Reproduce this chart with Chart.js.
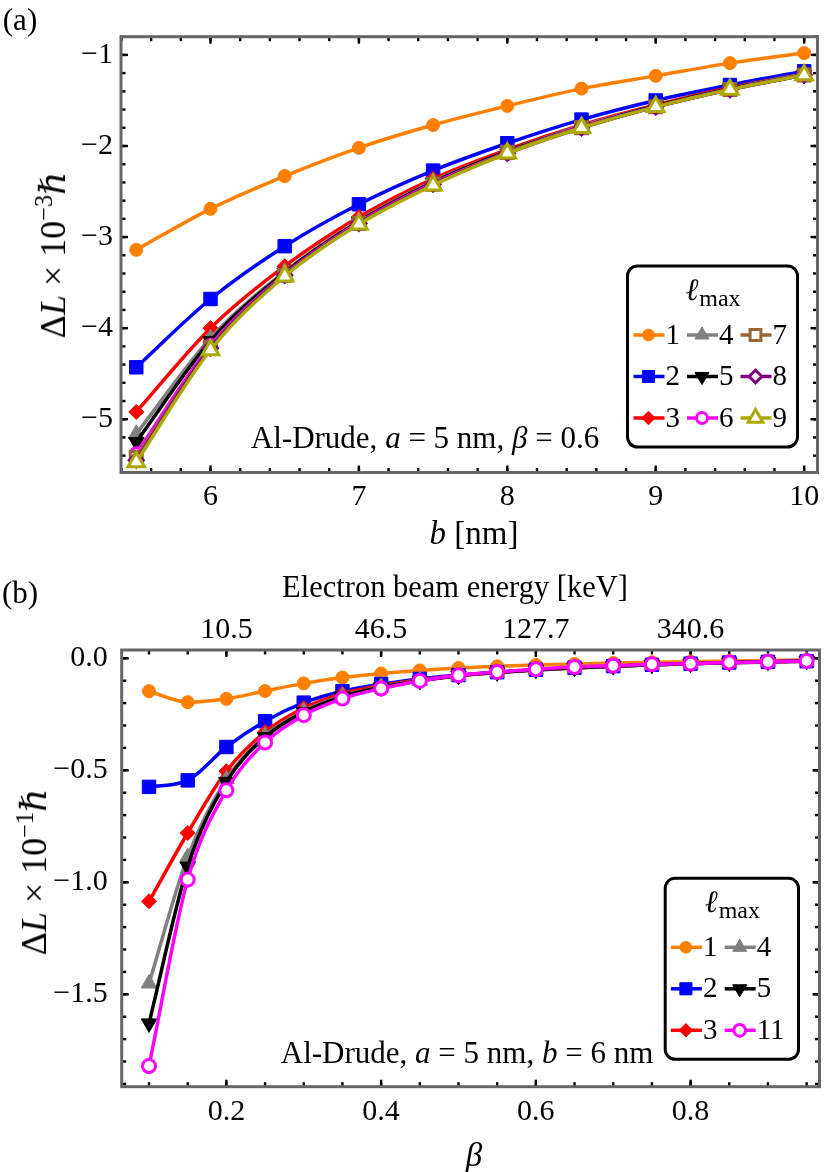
<!DOCTYPE html>
<html>
<head>
<meta charset="utf-8">
<script src="https://cdn.jsdelivr.net/npm/chart.js@4.4.1/dist/chart.umd.min.js"></script>
<style>
html, body { margin: 0; padding: 0; background: #fff; }
#wrap { position: relative; width: 830px; height: 1172px; overflow: hidden; font-family: 'Liberation Serif', 'DejaVu Serif', serif; color: #000; }
canvas { position: absolute; left: 0; }
.t { position: absolute; transform: translate(-50%, -50%); white-space: nowrap; line-height: 1; }
.rot { transform: translate(-50%, -50%) rotate(-90deg); }
sup { font-size: 0.68em; vertical-align: 0.55em; line-height: 0; }
</style>
</head>
<body>
<div id="wrap">
  <canvas id="chartA" width="830" height="575" style="top:0px"></canvas>
  <canvas id="chartB" width="830" height="597" style="top:575px"></canvas>

  <div class="t" style="left:20px; top:19px; font-size:31px;">(a)</div>
  <div class="t rot" style="left:53px; top:255px; font-size:36px;">Δ<i>L</i> × 10<sup>−3</sup><i>ℏ</i></div>
  <div class="t" style="left:474px; top:533px; font-size:33px;"><i>b</i> [nm]</div>
  <div class="t" style="left:425px; top:437px; font-size:31px;">Al-Drude, <i>a</i> = 5 nm, <i>β</i> = 0.6</div>

  <div class="t" style="left:20px; top:592px; font-size:31px;">(b)</div>
  <div class="t" style="left:455px; top:587px; font-size:30.5px;">Electron beam energy [keV]</div>
  <div class="t rot" style="left:34px; top:872px; font-size:36px;">Δ<i>L</i> × 10<sup>−1</sup><i>ℏ</i></div>
  <div class="t" style="left:474px; top:1155px; font-size:33px;"><i>β</i></div>
  <div class="t" style="left:467px; top:1052px; font-size:31px;">Al-Drude, <i>a</i> = 5 nm, <i>b</i> = 6 nm</div>
</div>

<script>
// ---- panel (a): dL vs impact parameter b, beta = 0.6 ----
const bValues = [5.5, 6, 6.5, 7, 7.5, 8, 8.5, 9, 9.5, 10];
const dLa_l1 = [-3.14, -2.69, -2.33, -2.02, -1.77, -1.56, -1.37, -1.23, -1.09, -0.98];
const dLa_l2 = [-4.43, -3.68, -3.10, -2.64, -2.27, -1.97, -1.71, -1.50, -1.33, -1.18];
const dLa_l3 = [-4.92, -4.00, -3.32, -2.78, -2.36, -2.04, -1.77, -1.55, -1.36, -1.21];
const dLa_l4 = [-5.16, -4.11, -3.38, -2.82, -2.39, -2.06, -1.78, -1.56, -1.37, -1.21];
const dLa_l5 = [-5.25, -4.14, -3.39, -2.83, -2.40, -2.06, -1.79, -1.56, -1.37, -1.22];
const dLa_l6 = [-5.38, -4.19, -3.41, -2.84, -2.41, -2.07, -1.79, -1.57, -1.38, -1.22];
const dLa_l7 = [-5.42, -4.21, -3.42, -2.85, -2.42, -2.07, -1.80, -1.57, -1.38, -1.22];
const dLa_l8 = [-5.45, -4.22, -3.42, -2.85, -2.42, -2.08, -1.80, -1.57, -1.38, -1.22];
const dLa_l9 = [-5.47, -4.24, -3.43, -2.86, -2.43, -2.08, -1.80, -1.57, -1.38, -1.22];
const lmaxA = ['1', '2', '3', '4', '5', '6', '7', '8', '9'];
const xTicksA = [6, 7, 8, 9, 10];
const yTicksA = [-5, -4, -3, -2, -1];

// ---- panel (b): dL vs beta, b = 6 nm ----
const betaValues = [0.1, 0.15, 0.2, 0.25, 0.3, 0.35, 0.4, 0.45, 0.5, 0.55, 0.6, 0.65, 0.7, 0.75, 0.8, 0.85, 0.9, 0.95];
const dLb_l1 = [-0.147, -0.196, -0.181, -0.146, -0.112, -0.086, -0.068, -0.054, -0.043, -0.036, -0.030, -0.025, -0.021, -0.018, -0.015, -0.012, -0.010, -0.008];
const dLb_l2 = [-0.574, -0.545, -0.396, -0.281, -0.198, -0.147, -0.115, -0.092, -0.075, -0.062, -0.051, -0.042, -0.035, -0.029, -0.024, -0.019, -0.016, -0.013];
const dLb_l3 = [-1.085, -0.780, -0.504, -0.329, -0.222, -0.158, -0.122, -0.097, -0.078, -0.063, -0.052, -0.043, -0.035, -0.029, -0.024, -0.020, -0.016, -0.013];
const dLb_l4 = [-1.452, -0.887, -0.540, -0.345, -0.236, -0.168, -0.128, -0.100, -0.078, -0.064, -0.052, -0.043, -0.036, -0.030, -0.025, -0.020, -0.017, -0.013];
const dLb_l5 = [-1.630, -0.930, -0.552, -0.352, -0.240, -0.171, -0.130, -0.101, -0.078, -0.063, -0.051, -0.042, -0.035, -0.029, -0.024, -0.019, -0.016, -0.012];
const dLb_l11 = [-1.820, -0.988, -0.589, -0.376, -0.254, -0.180, -0.135, -0.101, -0.076, -0.061, -0.049, -0.039, -0.033, -0.027, -0.024, -0.019, -0.016, -0.012];
const lmaxB = ['1', '2', '3', '4', '5', '11'];
const xTicksB = [0.2, 0.4, 0.6, 0.8];
const yTicksB = [0, -0.5, -1, -1.5];
const energyTickBetas = [0.2, 0.4, 0.6, 0.8];
const energyTickLabels = ['10.5', '46.5', '127.7', '340.6'];

const FONT = "'Liberation Serif', 'DejaVu Serif', serif";

// marker look per l_max
const styleOf = {
    '1':  {color: '#ff8000', shape: 'circle',   r: 6.5, filled: true},
    '2':  {color: '#0000ff', shape: 'rect',     r: 9.5, filled: true},
    '3':  {color: '#ff0000', shape: 'rectRot',  r: 7.5, filled: true},
    '4':  {color: '#808080', shape: 'triangle', r: 9,   filled: true},
    '5':  {color: '#000000', shape: 'triangle', r: 9,   filled: true, rot: 180},
    '6':  {color: '#ff00ff', shape: 'circle',   r: 6,   filled: false},
    '7':  {color: '#996633', shape: 'rect',     r: 8.5, filled: false},
    '8':  {color: '#800080', shape: 'rectRot',  r: 7,   filled: false},
    '9':  {color: '#aaaa00', shape: 'triangle', r: 9.5, filled: false},
    '11': {color: '#ff00ff', shape: 'circle',   r: 6.5, filled: false}
};

function makeDatasets(xs, series, labels) {
    return series.map((ys, i) => {
        const s = styleOf[labels[i]];
        return {
            label: labels[i],
            data: xs.map((x, k) => ({x: x, y: ys[k]})),
            borderColor: s.color,
            backgroundColor: s.color,
            borderWidth: 3.5,
            pointStyle: s.shape,
            pointRotation: s.rot || 0,
            pointRadius: s.r,
            pointHoverRadius: s.r,
            pointBorderColor: s.color,
            pointBackgroundColor: s.filled ? s.color : '#ffffff',
            pointBorderWidth: s.filled ? 1 : 3,
            cubicInterpolationMode: 'monotone',
            clip: false,
            order: series.length - i   // later l_max drawn on top
        };
    });
}

function steps(from, to, step) {
    let out = [];
    for (let v = from; v <= to + step / 2; v += step) out.push(Math.round(v * 1000) / 1000);
    return out;
}

function minus(v, digits) {
    let s = Math.abs(v).toFixed(digits);
    return v < 0 ? '\u2212' + s : s;
}

// frame with inward ticks on all four sides
const framePlugin = {
    id: 'frame',
    beforeDatasetsDraw(chart, args, o) {
        const ctx = chart.ctx, a = chart.chartArea;
        const xs = chart.scales.x, ys = chart.scales.y;
        ctx.save();
        ctx.fillStyle = '#000';
        const w = 2.4;
        const xt = (v, len) => {
            const p = xs.getPixelForValue(v);
            ctx.fillRect(p - w / 2, a.bottom - len, w, len);
            ctx.fillRect(p - w / 2, a.top, w, len);
        };
        const yt = (v, len) => {
            const p = ys.getPixelForValue(v);
            ctx.fillRect(a.left, p - w / 2, len, w);
            ctx.fillRect(a.right - len, p - w / 2, len, w);
        };
        o.xMinor.forEach(v => xt(v, 4.5));
        o.xMajor.forEach(v => xt(v, 7));
        o.yMinor.forEach(v => yt(v, 4.5));
        o.yMajor.forEach(v => yt(v, 7));
        ctx.strokeStyle = '#666';
        ctx.lineWidth = 3;
        ctx.strokeRect(a.left, a.top, a.right - a.left, a.bottom - a.top);
        ctx.restore();
    }
};

// boxed legend in the lower right of the plot
const boxLegendPlugin = {
    id: 'boxLegend',
    afterDatasetsDraw(chart, args, o) {
        if (!o.columns) return;
        const ctx = chart.ctx, a = chart.chartArea;
        const x0 = a.right - o.right - o.w;
        const y0 = a.bottom - o.bottom - o.h;
        ctx.save();
        ctx.beginPath();
        ctx.roundRect(x0, y0, o.w, o.h, 10);
        ctx.fillStyle = '#fff';
        ctx.fill();
        ctx.lineWidth = 3;
        ctx.strokeStyle = '#000';
        ctx.stroke();

        // title: l_max
        ctx.fillStyle = '#000';
        ctx.textBaseline = 'alphabetic';
        ctx.textAlign = 'left';
        ctx.font = 'italic 31px ' + FONT;
        const lw = ctx.measureText('ℓ').width;
        ctx.font = '24px ' + FONT;
        const mw = ctx.measureText('max').width;
        const tx = x0 + o.w / 2 - (lw + mw) / 2;
        ctx.font = 'italic 31px ' + FONT;
        ctx.fillText('ℓ', tx, y0 + 34);
        ctx.font = '24px ' + FONT;
        ctx.fillText('max', tx + lw + 1, y0 + 40);

        o.columns.forEach((col, c) => {
            col.forEach((lab, r) => {
                const ds = chart.data.datasets.find(d => d.label === lab);
                const cx = x0 + o.firstCol + c * o.colGap;
                const cy = y0 + o.firstRow + r * o.rowGap;
                ctx.strokeStyle = ds.borderColor;
                ctx.lineWidth = 3.5;
                ctx.beginPath();
                ctx.moveTo(cx - 15, cy);
                ctx.lineTo(cx + 16, cy);
                ctx.stroke();
                ctx.fillStyle = ds.pointBackgroundColor;
                ctx.strokeStyle = ds.pointBorderColor;
                ctx.lineWidth = ds.pointBorderWidth;
                Chart.helpers.drawPoint(ctx, {
                    pointStyle: ds.pointStyle,
                    rotation: ds.pointRotation,
                    radius: ds.pointRadius * 0.9,
                    borderWidth: ds.pointBorderWidth
                }, cx, cy);
                ctx.fillStyle = '#000';
                ctx.font = '29px ' + FONT;
                ctx.textBaseline = 'middle';
                ctx.fillText(lab, cx + 17, cy + 1);
            });
        });
        ctx.restore();
    }
};

Chart.register(framePlugin, boxLegendPlugin);

const tickFont = {family: FONT, size: 30};

function setTicks(values) {
    return function (scale) {
        scale.ticks = values.map(v => ({value: v}));
    };
}

// panel (a)
new Chart(document.getElementById('chartA'), {
    type: 'line',
    data: {
        datasets: makeDatasets(bValues,
            [dLa_l1, dLa_l2, dLa_l3, dLa_l4, dLa_l5, dLa_l6, dLa_l7, dLa_l8, dLa_l9], lmaxA)
    },
    options: {
        responsive: false,
        animation: false,
        layout: {padding: {top: 36.7, right: 3.3, left: 0, bottom: 0}},
        scales: {
            x: {
                type: 'linear',
                min: 5.397,
                max: 10.09,
                grid: {display: false, drawTicks: false},
                border: {display: false},
                afterBuildTicks: setTicks(xTicksA),
                afterFit: function (s) { s.height = 102.5; },
                ticks: {
                    font: tickFont, color: '#000', padding: 7, maxRotation: 0,
                    callback: v => String(v)
                }
            },
            y: {
                type: 'linear',
                min: -5.585,
                max: -0.80,
                grid: {display: false, drawTicks: false},
                border: {display: false},
                afterBuildTicks: setTicks(yTicksA),
                afterFit: function (s) { s.width = 121; },
                ticks: {
                    font: tickFont, color: '#000', padding: 8,
                    callback: v => minus(v, 0)
                }
            }
        },
        plugins: {
            legend: {display: false},
            tooltip: {enabled: false},
            frame: {
                xMajor: xTicksA, xMinor: steps(5.4, 10, 0.2),
                yMajor: yTicksA, yMinor: steps(-5.4, -0.8, 0.2)
            },
            boxLegend: {
                columns: [['1', '2', '3'], ['4', '5', '6'], ['7', '8', '9']],
                right: 20, bottom: 25.5, w: 170, h: 181,
                firstCol: 21, colGap: 53.5, firstRow: 69, rowGap: 41.5
            }
        }
    }
});

// panel (b)
new Chart(document.getElementById('chartB'), {
    type: 'line',
    data: {
        datasets: makeDatasets(betaValues,
            [dLb_l1, dLb_l2, dLb_l3, dLb_l4, dLb_l5, dLb_l11], lmaxB)
    },
    options: {
        responsive: false,
        animation: false,
        layout: {padding: {top: 0, right: 3.3, left: 0, bottom: 0}},
        scales: {
            x: {
                type: 'linear',
                position: 'bottom',
                min: 0.0647,
                max: 0.9666,
                grid: {display: false, drawTicks: false},
                border: {display: false},
                afterBuildTicks: setTicks(xTicksB),
                afterFit: function (s) { s.height = 85.3; },
                ticks: {
                    font: tickFont, color: '#000', padding: 7, maxRotation: 0,
                    callback: v => v.toFixed(1)
                }
            },
            x2: {
                type: 'linear',
                position: 'top',
                min: 0.0647,
                max: 0.9666,
                grid: {display: false, drawTicks: false},
                border: {display: false},
                afterBuildTicks: setTicks(energyTickBetas),
                afterFit: function (s) { s.height = 75; },
                ticks: {
                    font: tickFont, color: '#000', padding: 2, maxRotation: 0,
                    callback: v => energyTickLabels[energyTickBetas.indexOf(v)]
                }
            },
            y: {
                type: 'linear',
                min: -1.9125,
                max: 0.037,
                grid: {display: false, drawTicks: false},
                border: {display: false},
                afterBuildTicks: setTicks(yTicksB),
                afterFit: function (s) { s.width = 121.7; },
                ticks: {
                    font: tickFont, color: '#000', padding: 14,
                    callback: v => minus(v, 1)
                }
            }
        },
        plugins: {
            legend: {display: false},
            tooltip: {enabled: false},
            frame: {
                xMajor: xTicksB, xMinor: steps(0.1, 0.95, 0.05),
                yMajor: yTicksB, yMinor: steps(-1.9, 0, 0.1)
            },
            boxLegend: {
                columns: [['1', '2', '3'], ['4', '5', '11']],
                right: 21, bottom: 27.4, w: 133.3, h: 181,
                firstCol: 20.7, colGap: 53.8, firstRow: 69, rowGap: 41.5
            }
        }
    }
});
</script>
</body>
</html>
